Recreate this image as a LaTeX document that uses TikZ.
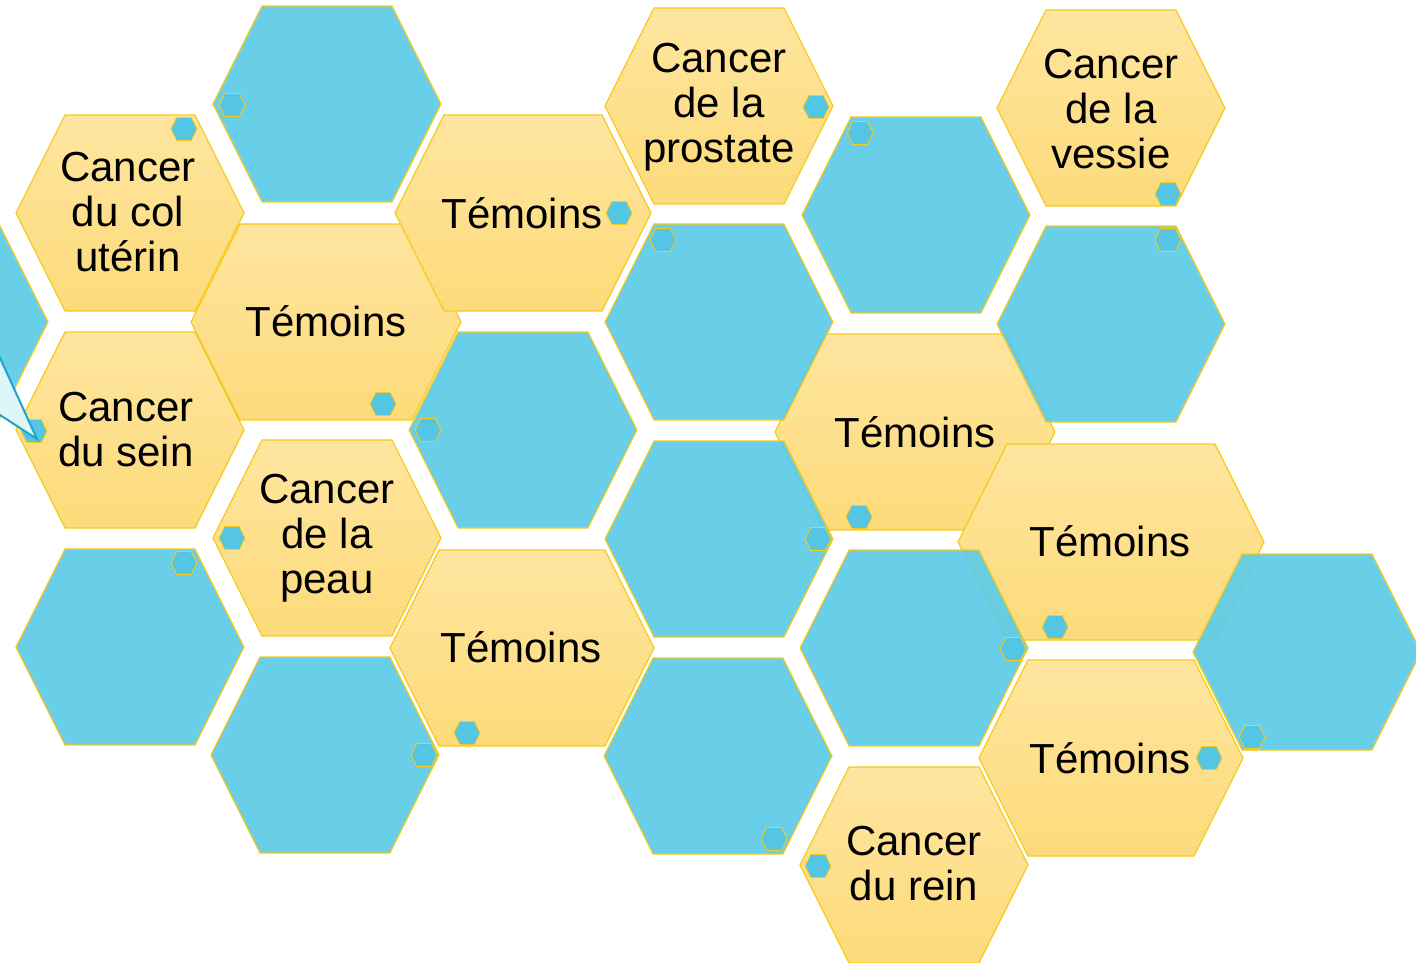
\documentclass[tikz,border=0pt]{standalone}
\usepackage{fontspec}
\setmainfont{Liberation Sans}
\definecolor{cgold}{RGB}{246,202,30}
\definecolor{cytop}{RGB}{254,229,160}
\definecolor{cybot}{RGB}{253,219,122}
\definecolor{cblue}{RGB}{96,203,229}
\definecolor{cdot}{RGB}{84,198,228}
\definecolor{ccall}{RGB}{30,165,205}
\definecolor{ccallfill}{RGB}{222,245,250}
\tikzset{
  every picture/.style={line width=1.2pt, x=1pt, y=-1pt},
  syellow/.style={draw=cgold, top color=cytop, bottom color=cybot},
  sblue/.style={draw=cgold, fill=cblue, fill opacity=0.94}, % blue cells lie over the yellow ones
  sdotcell/.style={draw=cgold, fill=cdot, line width=0.9pt},
  slabel/.style={align=center, inner sep=0pt,
                 font=\fontsize{42}{45}\selectfont},
  scallout/.style={draw=ccall, fill=ccallfill, line width=2pt},
}
% hexagon: centre (#2,#3), half width #4, half height #5
\newcommand{\hexat}[5][]{%
  \path[#1] ({#2-#4},#3) -- ({#2-#4+#5/2},{#3-#5}) -- ({#2+#4-#5/2},{#3-#5})
    -- ({#2+#4},#3) -- ({#2+#4-#5/2},{#3+#5}) -- ({#2-#4+#5/2},{#3+#5}) -- cycle;}

\begin{document}
\begin{tikzpicture}
  \useasboundingbox (0,0) rectangle (1416,963);
  \clip (0,0) rectangle (1416,963);
  % cancer cells
  \foreach \x/\y in {130/213, 130/430, 719/106, 1111/108, 327/538, 914/865}
    \hexat[syellow]{\x}{\y}{114}{98};
  % control cells
  \foreach \x/\y/\w in {326/322/135, 523/213/128, 915/432/140,
                        1111/542/153, 1111/758/132, 522/648/132}
    \hexat[syellow]{\x}{\y}{\w}{98};
  % empty cells
  \foreach \x/\y in {-66/322, 327/104, 523/430, 719/322, 916/215, 1111/324,
                     719/539, 130/647, 325/755, 718/756, 914/648, 1307/652}
    \hexat[sblue]{\x}{\y}{114}{98};
  % small marks
  \foreach \x/\y in {184/129, 232/105, 383/404, 428/430, 34/431, 619/213,
                     816/107, 860/133, 663/240, 1168/194, 1168/240, 859/517,
                     818/539, 232/538, 184/563, 1055/627, 1013/649, 1252/737,
                     1209/758, 467/733, 424/755, 774/839, 818/866}
    \hexat[sdotcell]{\x}{\y}{13}{11.5};
  \node[slabel] (col) at (128,212) {Cancer\\du col\\utérin};
  \node[slabel] (sein) at (126,430) {Cancer\\du sein};
  \node[slabel] (prostate) at (719,107) {Cancer\\de la\\prostate};
  \node[slabel] (vessie) at (1111,109) {Cancer\\de la\\vessie};
  \node[slabel] (peau) at (327,538) {Cancer\\de la\\peau};
  \node[slabel] (rein) at (914,864) {Cancer\\du rein};
  \node[slabel] (tem1) at (326,321) {Témoins};
  \node[slabel] (tem2) at (522,213) {Témoins};
  \node[slabel] (tem3) at (915,432) {Témoins};
  \node[slabel] (tem4) at (1110,541) {Témoins};
  \node[slabel] (tem5) at (1110,758) {Témoins};
  \node[slabel] (tem6) at (521,647) {Témoins};
  % callout pointer coming in from the left
  \coordinate (calltip) at (37,439);
  \draw[scallout] (-20,314) -- (calltip) -- (-20,402) -- cycle;
\end{tikzpicture}
\end{document}
